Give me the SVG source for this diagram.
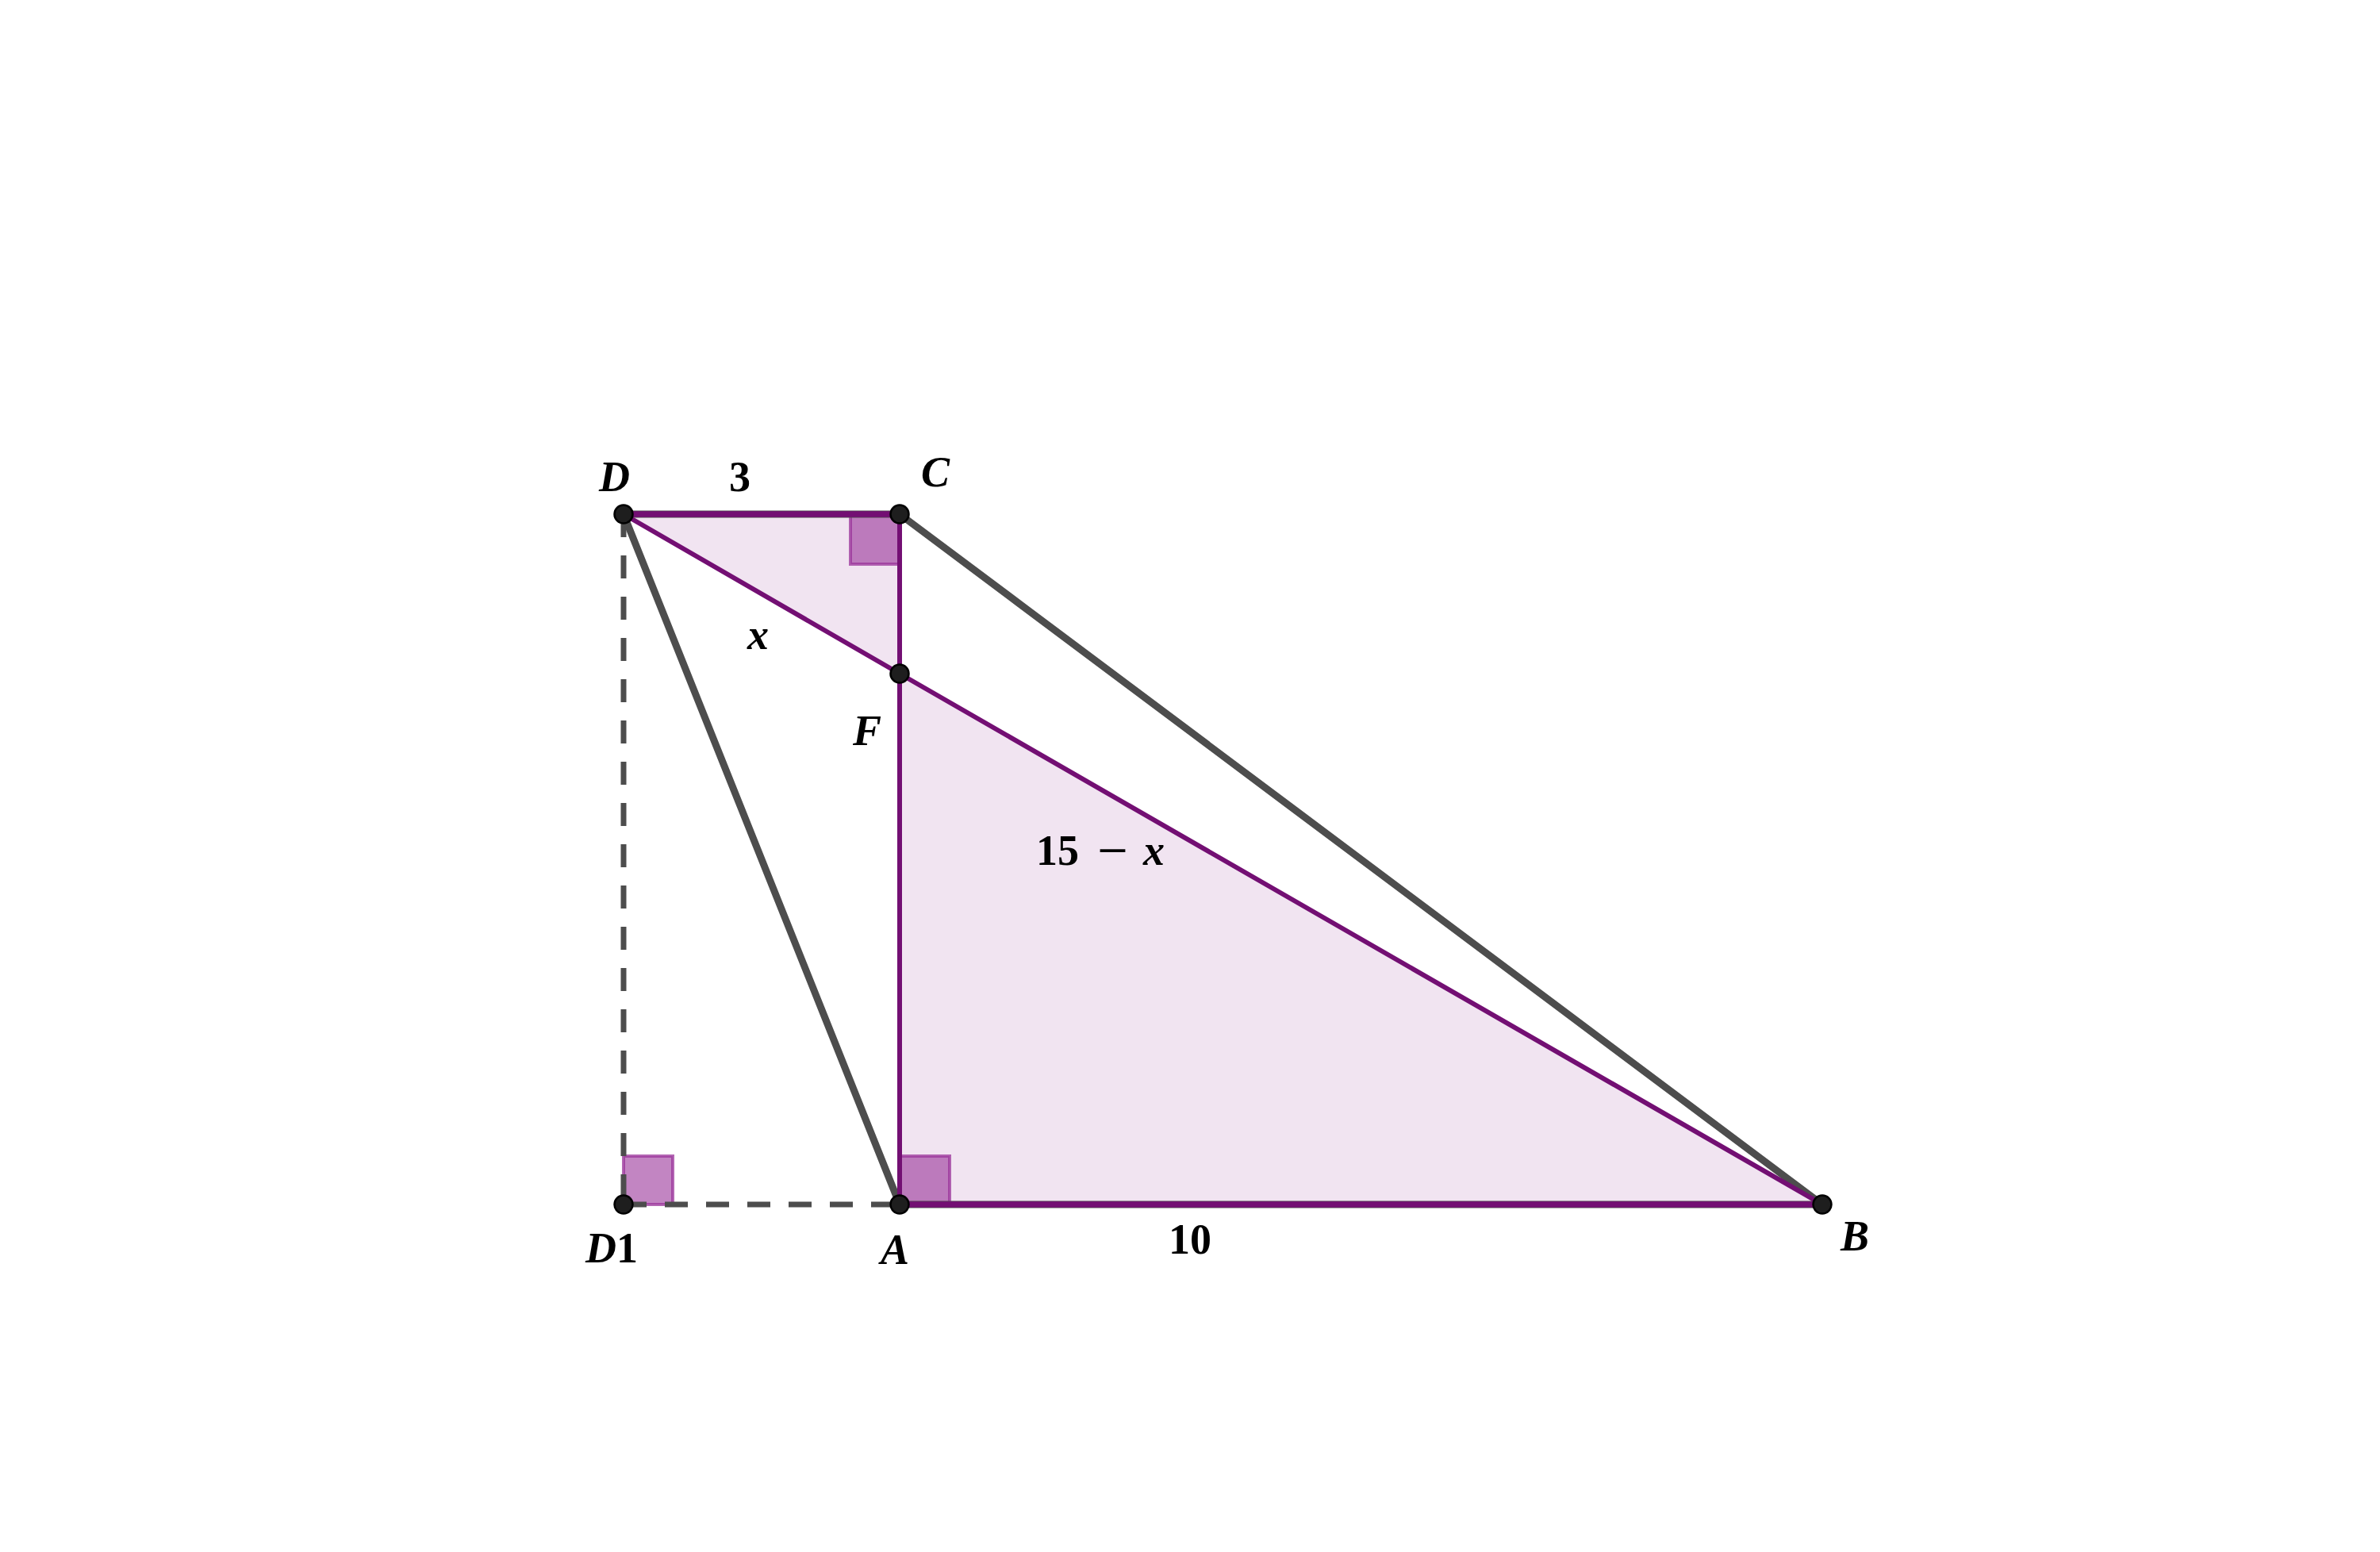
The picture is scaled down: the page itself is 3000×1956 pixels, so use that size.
<svg xmlns="http://www.w3.org/2000/svg" width="3000" height="1956" viewBox="0 0 3000 1956">
<style>
.tri{fill:#f1e4f1;stroke:none}
.ra{fill:#993399;fill-opacity:0.6;stroke:#993399;stroke-opacity:0.75;stroke-width:4}
.g{stroke:#4d4d4d;stroke-width:9;stroke-linecap:round;fill:none}
.gd{stroke:#4d4d4d;stroke-width:7;stroke-dasharray:29 23;fill:none}
.p{stroke:#730f73;stroke-width:6;fill:none;stroke-linecap:round}
.pt{stroke:#730f73;stroke-width:7.5;fill:none}
.pnt{fill:#1e1e1e;stroke:#000;stroke-width:2.5}
.lbl{font-family:"Liberation Serif","DejaVu Serif",serif;font-size:54px;font-weight:bold;font-style:italic;fill:#000}
.num{font-family:"Liberation Serif","DejaVu Serif",serif;font-size:54px;font-weight:bold;fill:#000}
</style>
<rect width="3000" height="1956" fill="#fff"/>
<g id="fills">
<polygon class="tri" points="786,648 1134,648 1134,849"/>
<polygon class="tri" points="1134,849 1134,1518 2297,1518"/>
</g>
<g id="right-angles">
<rect class="ra" x="1072" y="648" width="62" height="63"/>
<rect class="ra" x="786" y="1457" width="62" height="61"/>
<rect class="ra" x="1134" y="1457" width="63" height="61"/>
</g>
<g id="connectors">
<line class="gd" x1="786" y1="648" x2="786" y2="1518"/>
<line class="gd" x1="786" y1="1518" x2="1134" y2="1518"/>
<line class="g" x1="786" y1="648" x2="1134" y2="1518"/>
<line class="g" x1="1134" y1="648" x2="2297" y2="1518"/>
<line class="g" x1="786" y1="648" x2="1134" y2="648"/>
<line class="g" x1="1134" y1="1518" x2="2297" y2="1518"/>
<line class="pt" x1="786" y1="648" x2="1134" y2="648"/>
<line class="pt" x1="1134" y1="1518" x2="2297" y2="1518"/>
<line class="p" x1="1134" y1="648" x2="1134" y2="1518"/>
<line class="p" x1="786" y1="648" x2="1134" y2="849"/>
<line class="p" x1="1134" y1="849" x2="2297" y2="1518"/>
</g>
<g id="node-D"><circle class="pnt" cx="786" cy="648" r="11.5"/><text class="lbl" x="755" y="619">D</text></g>
<g id="node-C"><circle class="pnt" cx="1134" cy="648" r="11.5"/><text class="lbl" x="1161" y="613">C</text></g>
<g id="node-F"><circle class="pnt" cx="1134" cy="849" r="11.5"/><text class="lbl" x="1075" y="939">F</text></g>
<g id="node-D1"><circle class="pnt" cx="786" cy="1518" r="11.5"/><text class="lbl" x="738" y="1591">D<tspan font-style="normal">1</tspan></text></g>
<g id="node-A"><circle class="pnt" cx="1134" cy="1518" r="11.5"/><text class="lbl" x="1110" y="1593">A</text></g>
<g id="node-B"><circle class="pnt" cx="2297" cy="1518" r="11.5"/><text class="lbl" x="2320" y="1576">B</text></g>
<g id="labels">
<text class="num" x="919" y="619">3</text>
<text class="lbl" x="942" y="818">x</text>
<text class="num" x="1306" y="1090">15</text>
<text class="num" x="1383" y="1090" textLength="39" lengthAdjust="spacingAndGlyphs">−</text>
<text class="lbl" x="1441" y="1090">x</text>
<text class="num" x="1473" y="1580">10</text>
</g>
</svg>
